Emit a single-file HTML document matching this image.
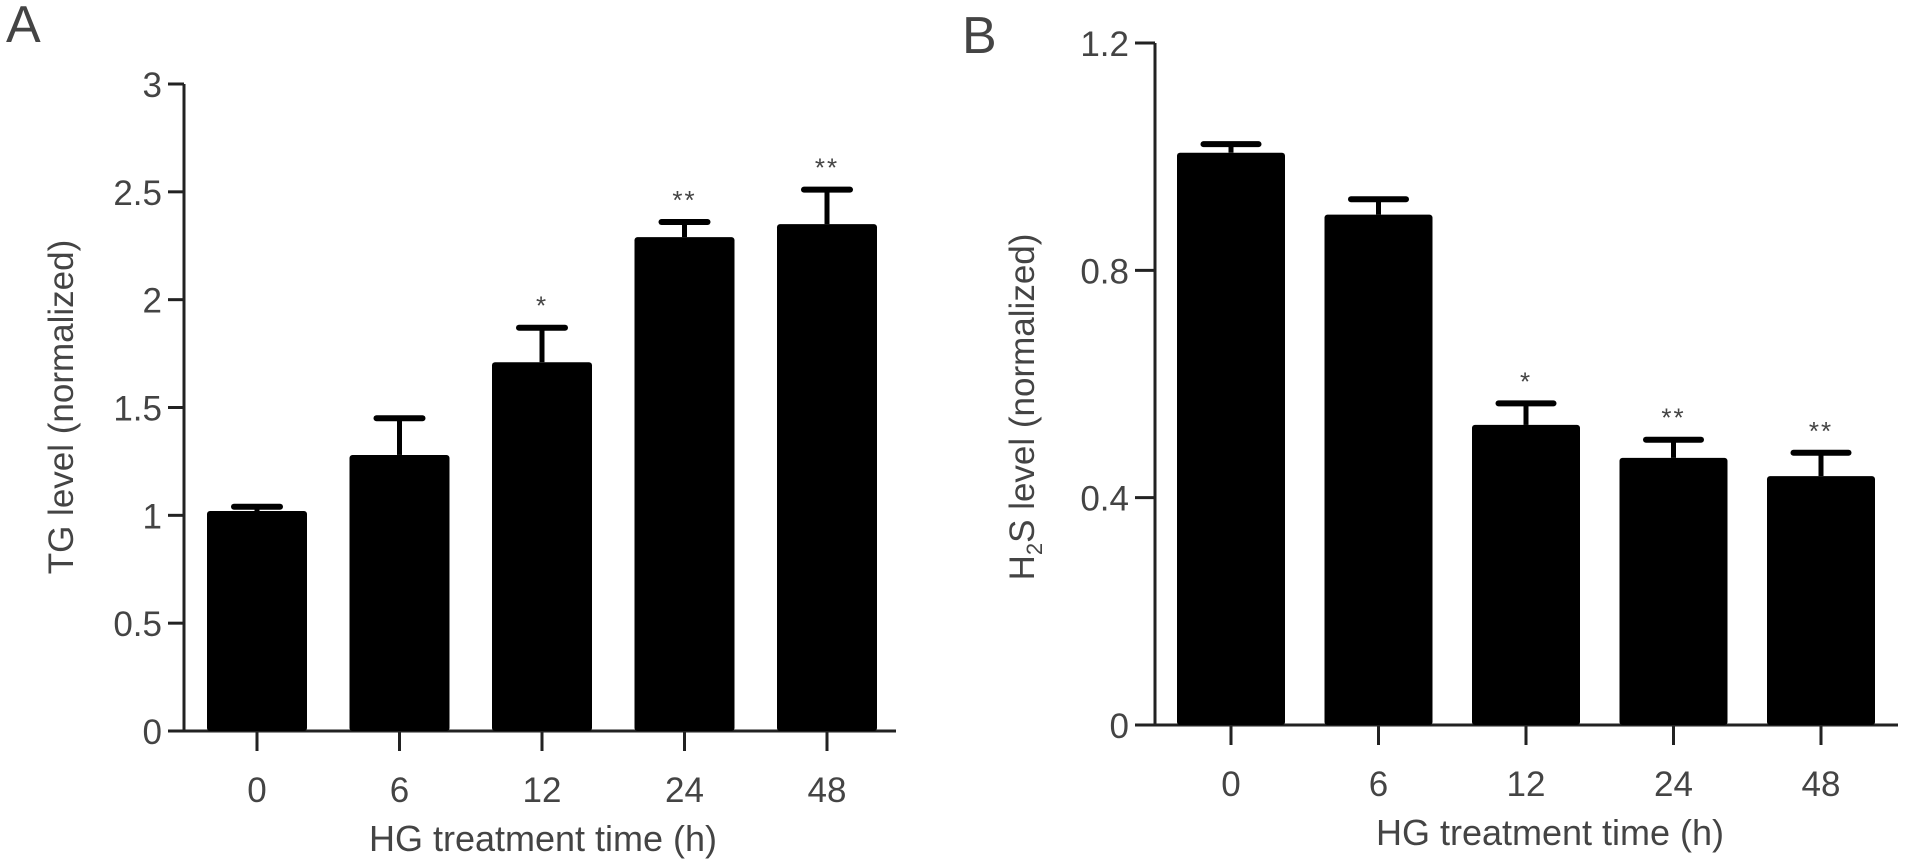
<!DOCTYPE html>
<html><head><meta charset="utf-8">
<style>
html,body{margin:0;padding:0;background:#fff;}
svg{display:block;}
text{font-family:"Liberation Sans",sans-serif;fill:#444;}
</style></head>
<body>
<svg id="fig" width="1913" height="862" viewBox="0 0 1913 862" xmlns="http://www.w3.org/2000/svg">
  <text x="6" y="42" font-size="52">A</text>
  <text x="962" y="53" font-size="52">B</text>
  <g id="chartA"></g>
  <g id="chartB"></g>
</svg>
<script>
const categories = ["0", "6", "12", "24", "48"];
const tgValues = [1.02, 1.28, 1.71, 2.29, 2.35];
const tgErrors = [0.02, 0.17, 0.16, 0.07, 0.16];
const tgStars = ["", "", "*", "**", "**"];
const tgTicks = [0, 0.5, 1, 1.5, 2, 2.5, 3];
const tgTickLabels = ["0", "0.5", "1", "1.5", "2", "2.5", "3"];
const h2sValues = [1.007, 0.898, 0.528, 0.47, 0.438];
const h2sErrors = [0.015, 0.027, 0.038, 0.032, 0.041];
const h2sStars = ["", "", "*", "**", "**"];
const h2sTicks = [0, 0.4, 0.8, 1.2];
const h2sTickLabels = ["0", "0.4", "0.8", "1.2"];

const NS = "http://www.w3.org/2000/svg";
function mk(parent, tag, attrs, txt) {
  const e = document.createElementNS(NS, tag);
  for (const k in attrs) e.setAttribute(k, attrs[k]);
  if (txt !== undefined) e.textContent = txt;
  parent.appendChild(e);
  return e;
}

function drawChart(g, cfg) {
  const y = v => cfg.y0 - (v - cfg.vmin) / (cfg.vmax - cfg.vmin) * (cfg.y0 - cfg.y1);
  const xc = i => cfg.firstCenter + i * cfg.pitch;
  let ax = mk(g, "line", {x1: cfg.axisX, y1: y(cfg.vmax), x2: cfg.axisX, y2: cfg.y0 + 1.5, stroke: "#222", "stroke-width": 3});
  
  
  let bx = mk(g, "line", {x1: cfg.axisX - 1.5, y1: cfg.y0, x2: cfg.axisEnd, y2: cfg.y0, stroke: "#222", "stroke-width": 3});
  
  
  cfg.ticks.forEach((t, i) => {
    const tk = mk(g, "line", {x1: cfg.axisX - cfg.tickLen, y1: y(t), x2: cfg.axisX, y2: y(t), stroke: "#222", "stroke-width": 3});
    
    
    const tl = mk(g, "text", {x: cfg.axisX - cfg.tickLen - 6, y: y(t) + 13, "font-size": 35, "text-anchor": "end"}, cfg.tickLabels[i]);
    
    
  });
  categories.forEach((c, i) => {
    const cx = xc(i);
    const v = cfg.values[i], e = cfg.errors[i];
    const st = mk(g, "line", {x1: cx, y1: y(v), x2: cx, y2: y(v + e), stroke: "#000", "stroke-width": 5});
    
    
    const cap = mk(g, "line", {x1: cx - cfg.capW / 2, y1: y(v + e), x2: cx + cfg.capW / 2, y2: y(v + e), stroke: "#000", "stroke-width": 6, "stroke-linecap": "round"});
    
    
    const b = mk(g, "rect", {x: cx - cfg.barW / 2, y: y(v), width: cfg.barW, height: cfg.y0 - y(v), fill: "#000", rx: 3});
    
    
    const xt = mk(g, "line", {x1: cx, y1: cfg.y0, x2: cx, y2: cfg.y0 + 20, stroke: "#222", "stroke-width": 3});
    
    
    const xl = mk(g, "text", {x: cx, y: cfg.y0 + 71, "font-size": 35, "text-anchor": "middle"}, c);
    
    
    if (cfg.stars[i]) {
      const s = mk(g, "text", {x: cx, y: y(v + e) - 13, "font-size": 26, "text-anchor": "middle", "letter-spacing": 2}, cfg.stars[i]);
      
      
    }
  });
  const xt = mk(g, "text", {x: cfg.titleX, y: cfg.y0 + 120, "font-size": 36, "text-anchor": "middle"}, "HG treatment time (h)");
  
  
}

const gA = document.getElementById("chartA");
drawChart(gA, {vmin: 0, vmax: 3, y0: 731, y1: 84, axisX: 184, axisEnd: 896, tickLen: 16,
  firstCenter: 257, pitch: 142.5, barW: 100, capW: 46,
  values: tgValues, errors: tgErrors, stars: tgStars, ticks: tgTicks, tickLabels: tgTickLabels, titleX: 543});
const yA = mk(gA, "text", {x: 0, y: 0, "font-size": 35, "text-anchor": "middle", transform: "translate(73,407) rotate(-90)"}, "TG level (normalized)");



const gB = document.getElementById("chartB");
drawChart(gB, {vmin: 0, vmax: 1.2, y0: 725, y1: 43, axisX: 1155, axisEnd: 1898, tickLen: 20,
  firstCenter: 1231, pitch: 147.5, barW: 108, capW: 55,
  values: h2sValues, errors: h2sErrors, stars: h2sStars, ticks: h2sTicks, tickLabels: h2sTickLabels, titleX: 1550});
const yB = mk(gB, "text", {x: 0, y: 0, "font-size": 35, "text-anchor": "middle", transform: "translate(1034,407) rotate(-90)"});


mk(yB, "tspan", {}, "H");
mk(yB, "tspan", {"font-size": 22, dy: 8}, "2");
mk(yB, "tspan", {dy: -8}, "S level (normalized)");
</script>
</body></html>
